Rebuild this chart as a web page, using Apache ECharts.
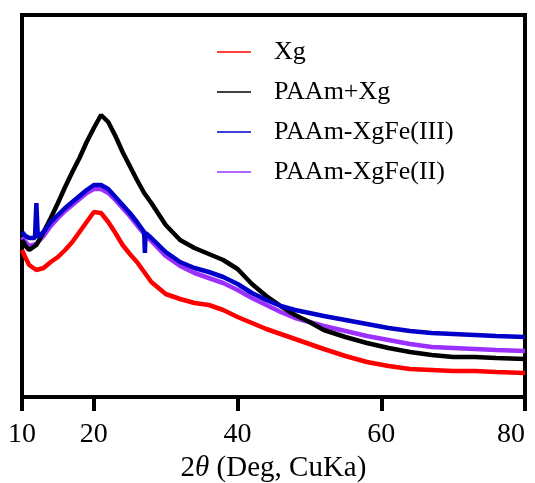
<!DOCTYPE html>
<html><head><meta charset="utf-8">
<script src="https://cdn.jsdelivr.net/npm/echarts@6/dist/echarts.min.js"></script>
<style>html,body{margin:0;padding:0;background:#fff}#c{width:535px;height:483px}</style>
</head><body><div id="c"></div>
<script>
var seriesNames = ['Xg', 'PAAm+Xg', 'PAAm-XgFe(III)', 'PAAm-XgFe(II)'];
var xTicks = [10, 20, 40, 60, 80];
var degrees = [10,10.5,11,12,13,14,15,16,17,18,19,20,21,22,23,24,25,26,27,28,30,32,34,36,38,40,42,44,46,48,50,52,55,58,61,64,67,70,73,76,80];
var xg = [147,139,132,127,129,135,140,147,155,165,175,185,184,175,164,152,143,135,125,115,103,98,94,92,87,80,74,68,63,58,53,48,41,35,31,28,27,26,26,25,24];
var paamXg = [157,151,147,152,165,179,194,210,225,239,255,269,282,275,261,245,231,217,204,194,172,157,149,143,137,128,113,101,91,82,75,67,60,54,49,45,42,40,40,39,38];
var paamFe2 = [160,155,151,153,161,171,179,186,192,198,204,208,208,204,197,189,181,172,163,156,141,131,124,119,114,107,99,92,85,79,75,71,66,61,57,53,50,49,48,47,46];
var blueDegrees = [10,10.5,11,11.8,12,12.2,13,14,15,16,17,18,19,20,21,22,23,24,25,26,27,27.1,27.2,28,30,32,34,36,38,40,42,44,46,48,50,52,55,58,61,64,67,70,73,76,80];
var paamFe3 = [165,161,159,159,194,160,165,175,182,189,195,201,207,212,212,208,200,192,184,175,165,144,164,159,145,135,129,125,120,113,104,97,91,87,84,81,77,73,69,66,64,63,62,61,60];

function pairs(xs, ys){ return xs.map(function(x,i){ return [x, ys[i]]; }); }

var chart = echarts.init(document.getElementById('c'), null, {renderer:'canvas'});
var font = '"Liberation Serif", "Times New Roman", serif';
function mk(name, xs, ys, color, z){
  return {name:name, type:'line', data:pairs(xs, ys), symbol:'none', z:z,
    lineStyle:{color:color, width:4.5}, itemStyle:{color:color}, animation:false};
}
chart.setOption({
  animation:false,
  grid:{left:22, right:10, top:15, bottom:86, show:true, borderColor:'#000', borderWidth:4,
    backgroundColor:'transparent', containLabel:false, outerBoundsMode:'none'},
  legend:{
    data:seriesNames, orient:'vertical', left:212, top:34, itemGap:14,
    itemWidth:34, itemHeight:14, icon:'path://M0,0L34,0L34,1.6L0,1.6Z',
    textStyle:{fontFamily:font, fontSize:26, color:'#000', padding:[0,0,0,18]}
  },
  xAxis:{type:'value', min:10, max:80,
    axisLine:{show:true, lineStyle:{color:'#000', width:4}},
    axisTick:{show:true, customValues:xTicks, length:14, lineStyle:{color:'#000', width:4}},
    axisLabel:{customValues:xTicks, fontFamily:font, fontSize:28, color:'#000', margin:24,
      alignMaxLabel:'right'},
    splitLine:{show:false},
    name:'{n|2}{t|θ}{n| (Deg, CuKa)}', nameLocation:'middle', nameGap:55,
    nameTextStyle:{fontFamily:font, fontSize:29, color:'#000',
      rich:{n:{fontFamily:font, fontSize:29, color:'#000'}, t:{fontFamily:font, fontSize:29, fontStyle:'italic', color:'#000'}}}
  },
  yAxis:{type:'value', min:0, max:382, axisLine:{show:true, lineStyle:{color:'#000', width:4}},
    axisTick:{show:false}, axisLabel:{show:false}, splitLine:{show:false}},
  series:[
    mk('Xg', degrees, xg, '#ff0000', 2),
    mk('PAAm-XgFe(II)', degrees, paamFe2, '#9b30ff', 3),
    mk('PAAm+Xg', degrees, paamXg, '#000000', 4),
    mk('PAAm-XgFe(III)', blueDegrees, paamFe3, '#0000c8', 5)
  ]
});
</script></body></html>
